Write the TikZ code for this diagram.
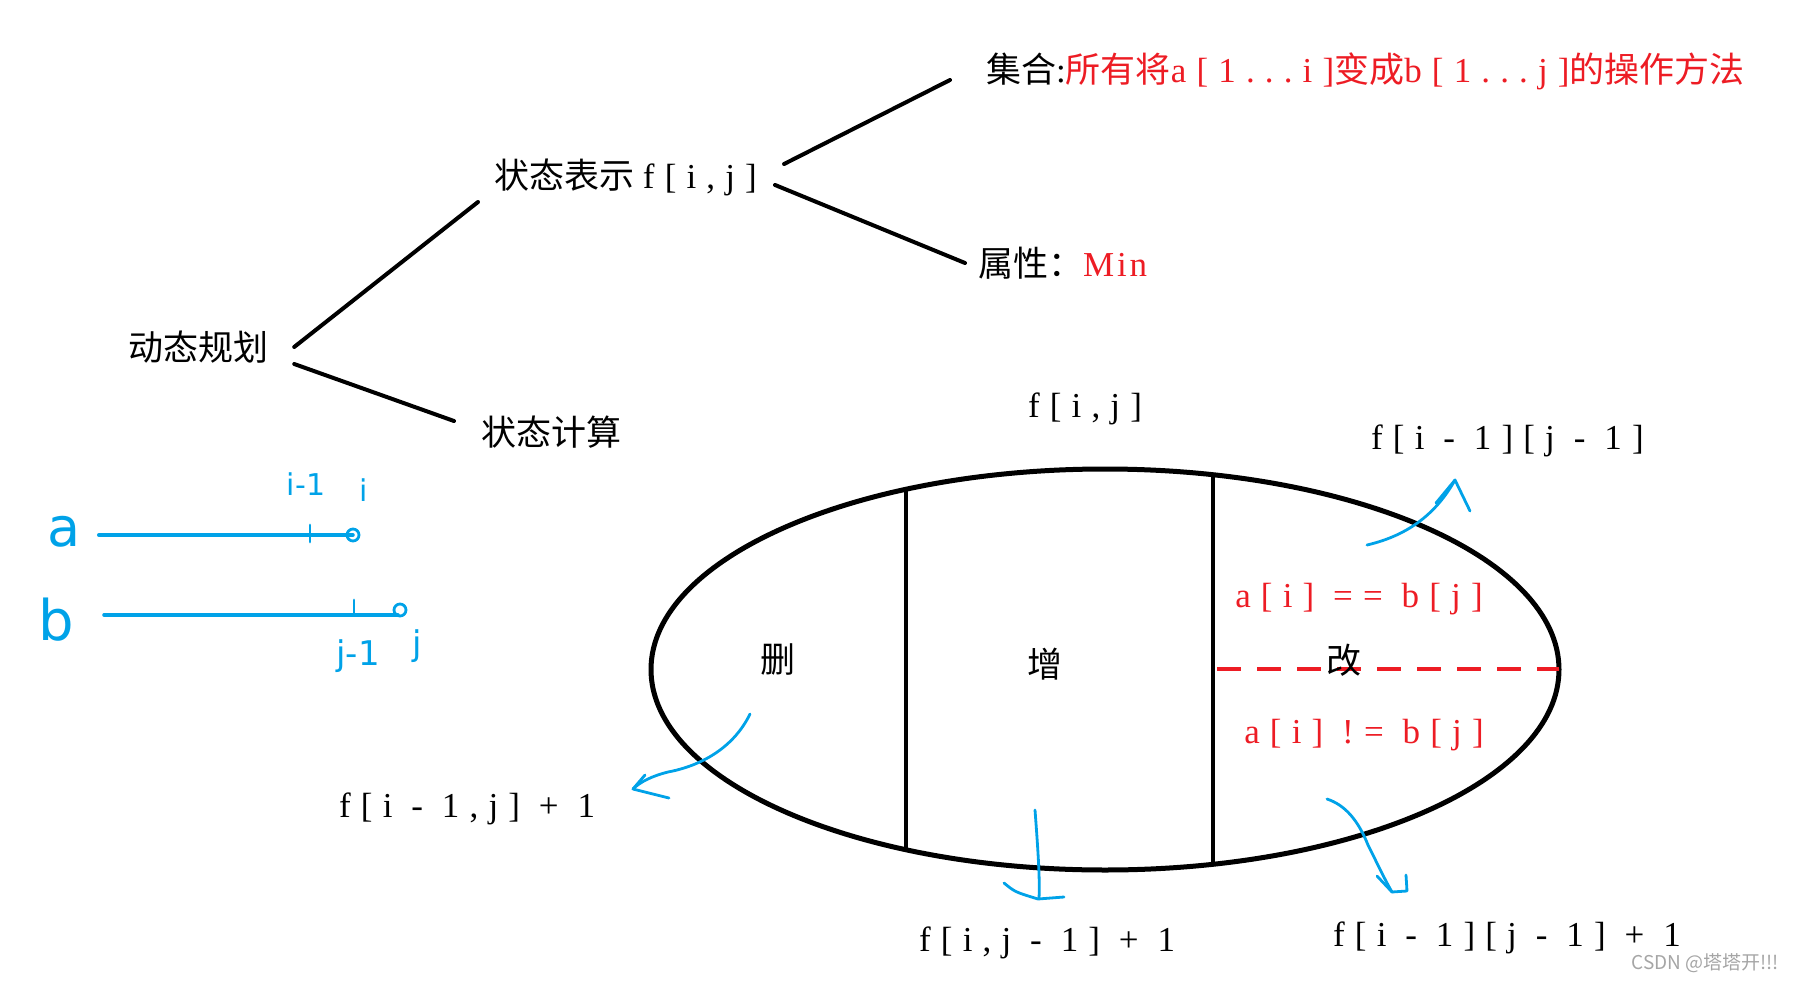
\documentclass[tikz,border=0pt]{standalone}
\usepackage{fontspec}
\setmainfont{Liberation Serif}
\newfontfamily\cjk{Noto Sans CJK SC}
\newfontfamily\lat[LetterSpace=29]{Liberation Serif}
\newfontfamily\latn[LetterSpace=8]{Liberation Serif}
\newfontfamily\hw{DejaVu Sans}
\usetikzlibrary{shapes.geometric,calc}
\definecolor{pred}{RGB}{237,28,36}
\definecolor{pblue}{RGB}{0,162,232}
\definecolor{wmgray}{RGB}{165,165,165}
\begin{document}
\begin{tikzpicture}[x=1pt,y=-1pt,
  txt/.style={inner sep=0pt, font=\fontsize{35}{40}\selectfont},
  tree/.style={line width=4pt, line cap=round},
  hand/.style={pblue, line width=2.8pt, line cap=round, line join=round},
  hw/.style={pblue, inner sep=0pt},
  bord/.style={line width=4pt}]
\useasboundingbox (0,0) rectangle (1794,982);
% tree texts
\node[txt] (dp) at (198,347) {\cjk 动态规划};
\node[txt,anchor=west] (s1) at (494,177) {{\cjk 状态表示} {\lat f[i,j]}};
\node[txt,anchor=west] (s2) at (481,432) {\cjk 状态计算};
\node[txt,anchor=west] (set) at (986,71) {{\cjk 集合}{\lat :}\color{pred}{\cjk 所有将}{\lat a[1...i]}{\cjk 变成}{\lat b[1...j]}{\cjk 的操作方法}};
\node[txt,anchor=west] (attr) at (978,263) {{\cjk 属性：}\color{pred}{\latn Min}};
% tree lines
\draw[tree] ($(dp.east)+(26,0)$) -- ($(s1.west)+(-16,25)$);
\draw[tree] ($(dp.east)+(26,17)$) -- ($(s2.west)+(-27,-11)$);
\draw[tree] ($(s1.east)+(27,-13)$) -- ($(set.west)+(-36,9)$);
\draw[tree] ($(s1.east)+(18,8)$) -- ($(attr.west)+(-13,0)$);
% ellipse
\node[draw, ellipse, line width=5pt, minimum width=908pt, minimum height=401pt, inner sep=0pt] (E) at (1105,669.5) {};
\begin{scope}
\clip (E.center) ellipse [x radius=454, y radius=200.5];
\draw[bord] (906,420) -- (906,920);
\draw[bord] (1213,420) -- (1213,920);
\draw[pred, line width=3.5pt, dash pattern=on 24pt off 16pt] (1217,669) -- (1570,669);
\end{scope}
\node[txt] (del) at (778,660) {\cjk 删};
\node[txt] (add) at (1045,664) {\cjk 增};
\node[txt] (chg) at (1344,660) {\cjk 改};
\node[txt, pred] (eq) at (1359,599) {\lat a[i] == b[j]};
\node[txt, pred] (ne) at (1364,735) {\lat a[i] != b[j]};
% outside labels
\node[txt] (fij) at (1085,409) {\lat f[i,j]};
\node[txt,anchor=west] (fd) at (1371,441) {\lat f[i - 1][j - 1]};
\node[txt,anchor=west] (f1) at (339,809) {\lat f[i - 1,j] + 1};
\node[txt,anchor=west] (f2) at (919,943) {\lat f[i,j - 1] + 1};
\node[txt,anchor=west] (f3) at (1333,938) {\lat f[i - 1][j - 1] + 1};
\node[wmgray, inner sep=0pt, anchor=east, font=\fontsize{19}{22}\selectfont\cjk] (wm) at (1779,963) {CSDN @塔塔开!!!};
% blue arrows
\draw[hand] (1367,545) .. controls (1410,535) and (1437,512) .. (1455,480);
\draw[hand] (1436,503) -- (1455,480) -- (1470,511);
\draw[hand] (750,714) .. controls (735,745) and (705,765) .. (668,772) .. controls (652,776) and (640,782) .. (633,789);
\draw[hand] (645,775) -- (633,789) -- (669,798);
\draw[hand] (1035,810) .. controls (1038,850) and (1040,880) .. (1039,898);
\draw[hand] (1004,883) .. controls (1015,892) .. (1038,899) -- (1064,897);
\draw[hand] (1327,799) .. controls (1345,805) and (1358,820) .. (1368,845) .. controls (1378,865) and (1385,880) .. (1392,892);
\draw[hand] (1377,876) -- (1392,892) -- (1407,891) -- (1406,875);
% blue a / b sketch
\node[hw, font=\fontsize{54}{60}\selectfont\hw] (la) at (64,532) {a};
\node[hw, font=\fontsize{56}{60}\selectfont\hw] (lb) at (56,620) {b};
\coordinate (aend) at (353,535);
\coordinate (bend) at (398,615);
\draw[hand, line width=3.5pt] ($(la.east)+(18,3)$) -- (aend);
\draw[hand, line width=3.5pt] ($(lb.east)+(30,-5)$) -- (bend);
\draw[hand] (310,525) -- (310,542);
\draw[hand] (354,600) -- (354,614);
\draw[hand] (aend) circle [radius=6];
\draw[hand] ($(bend)+(2,-5)$) circle [radius=6];
\node[hw, font=\fontsize{30}{30}\selectfont\hw] (im) at (306,484) {i-1};
\node[hw, font=\fontsize{30}{30}\selectfont\hw] (ii) at (364,490) {i};
\node[hw, font=\fontsize{34}{34}\selectfont\hw] (jm) at (358,656) {j-1};
\node[hw, font=\fontsize{34}{34}\selectfont\hw] (jj) at (417,646) {j};
\end{tikzpicture}
\end{document}
